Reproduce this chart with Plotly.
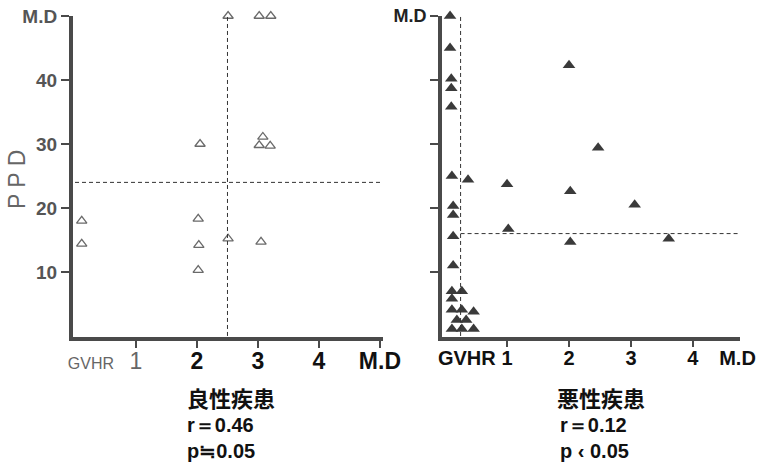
import plotly.graph_objects as go

# 良性疾患 (benign): M.D score vs PPD
benign_md = [2.51, 3.02, 3.21, 2.05, 3.08, 3.02, 3.20, 0.11, 0.11, 2.02, 2.03, 2.02, 2.51, 3.05]
benign_ppd = [50, 50, 50, 30.0, 31.1, 29.8, 29.7, 18.0, 14.4, 18.3, 14.2, 10.3, 15.2, 14.7]

# 悪性疾患 (malignant): M.D score vs PPD
malig_md = [0.08, 0.08, 0.10, 0.10, 0.10, 2.00, 2.47, 0.11, 0.37, 1.00, 2.02, 3.06,
            0.13, 0.13, 1.02, 0.13, 2.02, 3.61, 0.13, 0.11, 0.27, 0.11, 0.11, 0.27,
            0.46, 0.19, 0.34, 0.11, 0.27, 0.46]
malig_ppd = [50, 45.0, 40.2, 38.7, 35.8, 42.3, 29.4, 25.0, 24.4, 23.7, 22.6, 20.5,
             20.3, 18.9, 16.7, 15.6, 14.7, 15.2, 11.0, 7.0, 7.0, 5.8, 4.1, 4.1,
             3.8, 2.5, 2.5, 1.1, 1.1, 1.1]

# reference (dashed) lines: x position of vertical, y position of horizontal
benign_cut_md, benign_cut_ppd = 2.5, 24
malig_cut_md, malig_cut_ppd = 0.25, 16

y_ticks = [10, 20, 30, 40, 50]
y_ticktext = ["10", "20", "30", "40", "M.D"]
x_ticks = [1, 2, 3, 4]

W, H = 760, 467
SANS = "Liberation Sans, Arial, sans-serif"
CJK = "Noto Sans CJK JP, sans-serif"
AX = "#4a4a4a"

fig = go.Figure()

fig.add_trace(go.Scatter(
    x=benign_md, y=benign_ppd, mode="markers", cliponaxis=False,
    marker=dict(symbol="triangle-up-open", size=9, color="#6a6a6a", line=dict(width=1.3)),
    xaxis="x", yaxis="y"))
fig.add_trace(go.Scatter(
    x=[benign_cut_md, benign_cut_md], y=[0, 50], mode="lines", cliponaxis=False,
    line=dict(color="#333", width=1, dash="4px,3px"), xaxis="x", yaxis="y"))
fig.add_trace(go.Scatter(
    x=[0, 5.05], y=[benign_cut_ppd, benign_cut_ppd], mode="lines", cliponaxis=False,
    line=dict(color="#333", width=1, dash="4px,3px"), xaxis="x", yaxis="y"))

fig.add_trace(go.Scatter(
    x=malig_md, y=malig_ppd, mode="markers", cliponaxis=False,
    marker=dict(symbol="triangle-up", size=11, color="#3a3a3a", line=dict(width=0)),
    xaxis="x2", yaxis="y2"))
fig.add_trace(go.Scatter(
    x=[malig_cut_md, malig_cut_md], y=[0, 50], mode="lines", cliponaxis=False,
    line=dict(color="#333", width=1, dash="4px,3px"), xaxis="x2", yaxis="y2"))
fig.add_trace(go.Scatter(
    x=[malig_cut_md, 4.82], y=[malig_cut_ppd, malig_cut_ppd], mode="lines", cliponaxis=False,
    line=dict(color="#333", width=1, dash="4px,3px"), xaxis="x2", yaxis="y2"))

y_dom = [1 - 337 / H, 1 - 16 / H]
y_rng = [-0.16, 50]

common_axis = dict(showgrid=False, zeroline=False, showline=True, linecolor=AX, linewidth=4,
                   fixedrange=True, automargin=False)

fig.update_layout(
    width=W, height=H, margin=dict(l=0, r=0, t=0, b=0),
    paper_bgcolor="white", plot_bgcolor="white", showlegend=False,
    xaxis=dict(**common_axis, domain=[73 / W, 383 / W], range=[-0.033, 5.05], anchor="y",
               tickvals=[0.26, 1, 2, 3, 4, 5],
               ticktext=['<span style="font-size:16px;color:#666">GVHR</span>',
                         '<span style="color:#666">1</span>',
                         "<b>2</b>", "<b>3</b>", "<b>4</b>", "<b>M.D</b>"],
               ticks="", tickangle=0, tickfont=dict(family=SANS, size=23, color="#111"),
               minor=dict(tickvals=x_ticks + [5], ticks="outside", ticklen=7, tickwidth=2,
                          tickcolor=AX)),
    yaxis=dict(**common_axis, domain=y_dom, range=y_rng, anchor="x",
               tickvals=y_ticks, ticktext=[f"<b>{t}</b>" for t in y_ticktext],
               ticks="outside", ticklen=8, tickwidth=2, tickcolor=AX,
               tickfont=dict(family=SANS, size=19, color="#555")),
    xaxis2=dict(**common_axis, domain=[442 / W, 740 / W], range=[-0.05, 4.76], anchor="y2",
                tickvals=[0.35, 1, 2, 3, 4, 4.72],
                ticktext=["<b>GVHR</b>", "<b>1</b>", "<b>2</b>", "<b>3</b>", "<b>4</b>",
                          "<b>M.D</b>"],
                ticks="", tickangle=0, tickfont=dict(family=SANS, size=20, color="#111"),
                minor=dict(tickvals=x_ticks, ticks="outside", ticklen=6, tickwidth=2,
                           tickcolor=AX)),
    yaxis2=dict(**common_axis, domain=y_dom, range=y_rng, anchor="x2",
                tickvals=y_ticks, ticktext=["", "", "", "", "<b>M.D</b>"],
                ticks="outside", ticklen=8, tickwidth=2, tickcolor=AX,
                tickfont=dict(family=SANS, size=18, color="#222")),
)

fig.add_annotation(x=17 / W, y=1 - 180 / H, xref="paper", yref="paper", text="P P D",
                   textangle=-90, showarrow=False, xanchor="center", yanchor="middle",
                   font=dict(family=SANS, size=23, color="#666"))

# disease group headings
for px, py, txt in [(185, 397, "良性疾患"), (555, 397, "悪性疾患")]:
    fig.add_annotation(x=px / W, y=1 - py / H, xref="paper", yref="paper",
                       text=f"<b>{txt}</b>", showarrow=False, xanchor="left", yanchor="middle",
                       font=dict(family=CJK, size=22, color="#111"))

# correlation statistics under each heading
for px, txt in [(185, "r＝0.46<br>p≒0.05"), (558, "r＝0.12<br>p ‹ 0.05")]:
    fig.add_annotation(x=px / W, y=1 - 438 / H, xref="paper", yref="paper",
                       text=f"<b>{txt}</b>", showarrow=False, xanchor="left", yanchor="middle",
                       align="left", font=dict(family=SANS, size=20, color="#111"))

fig.write_html("out.html")
